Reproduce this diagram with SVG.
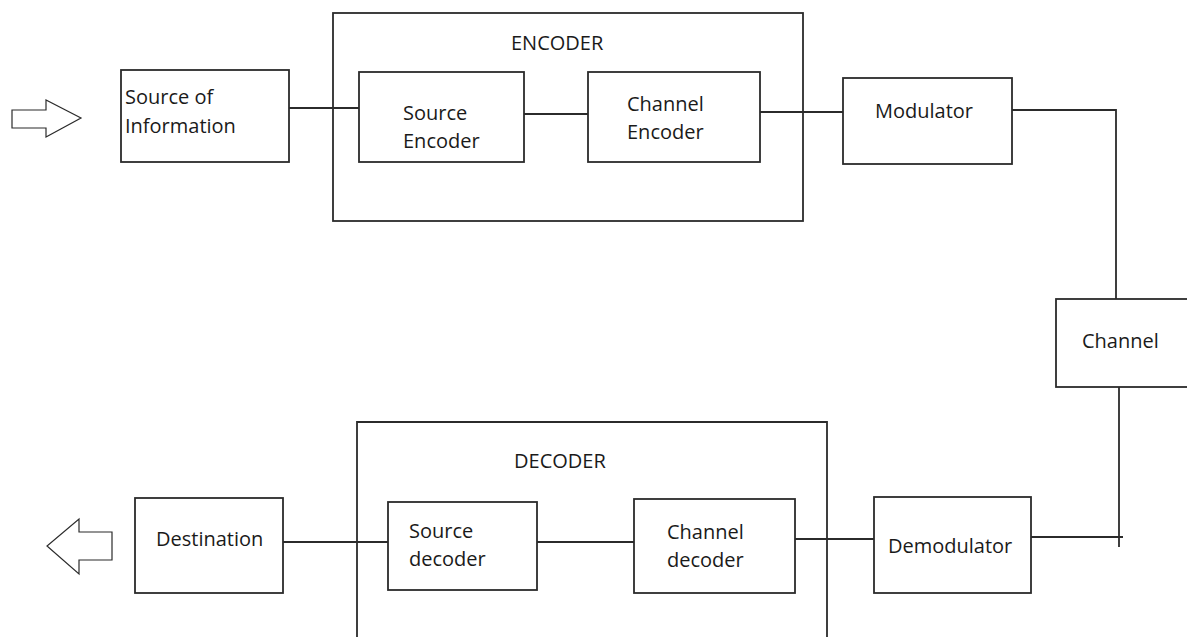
<svg xmlns="http://www.w3.org/2000/svg" width="1187" height="637" viewBox="0 0 1187 637">
  <style>
    .box { fill: #ffffff; stroke: #2b2b2b; stroke-width: 1.8; }
    .wire { fill: none; stroke: #2b2b2b; stroke-width: 1.8; }
    .hollow { fill: #ffffff; stroke: #2b2b2b; stroke-width: 1.2; }
    .label { font-family: "Open Sans", "Noto Sans", "Liberation Sans", sans-serif; font-size: 20px; fill: #1a1a1a; }
  </style>
  <rect width="1187" height="637" fill="#ffffff"/>

  <!-- block outlines for the encoder and decoder groups -->
  <g id="encoder">
    <rect class="box" x="333" y="13" width="470" height="208"/>
    <text class="label" x="511" y="50">ENCODER</text>
  </g>
  <g id="decoder">
    <path class="box" d="M357 640 V422 H827 V640"/>
    <text class="label" x="514" y="468">DECODER</text>
  </g>

  <!-- connectors -->
  <g id="connectors">
    <path class="wire" d="M289 108 H362"/>
    <path class="wire" d="M524 114 H591"/>
    <path class="wire" d="M760 112 H843"/>
    <path class="wire" d="M1012 110 H1116 V299"/>
    <path class="wire" d="M1119 387 V547"/>
    <path class="wire" d="M1030 537 H1123"/>
    <path class="wire" d="M795 539 H877"/>
    <path class="wire" d="M537 542 H637"/>
    <path class="wire" d="M281 542 H390"/>
  </g>

  <!-- input / output arrows -->
  <g id="input-arrow">
    <polygon class="hollow" points="12,110 46,110 46,100 81,118 46,137 46,128 12,128"/>
  </g>
  <g id="output-arrow">
    <polygon class="hollow" points="112,532 79,532 79,519 47,546 79,574 79,560 112,560"/>
  </g>

  <g id="source-of-information">
    <rect class="box" x="121" y="70" width="168" height="92"/>
    <text class="label" x="125" y="104">Source of</text>
    <text class="label" x="125" y="133">Information</text>
  </g>
  <g id="source-encoder">
    <rect class="box" x="359" y="72" width="165" height="90"/>
    <text class="label" x="403" y="120">Source</text>
    <text class="label" x="403" y="148">Encoder</text>
  </g>
  <g id="channel-encoder">
    <rect class="box" x="588" y="72" width="172" height="90"/>
    <text class="label" x="627" y="111">Channel</text>
    <text class="label" x="627" y="139">Encoder</text>
  </g>
  <g id="modulator">
    <rect class="box" x="843" y="78" width="169" height="86"/>
    <text class="label" x="875" y="118">Modulator</text>
  </g>
  <g id="channel">
    <rect class="box" x="1056" y="299" width="132" height="88"/>
    <text class="label" x="1082" y="348">Channel</text>
  </g>
  <g id="demodulator">
    <rect class="box" x="874" y="497" width="157" height="96"/>
    <text class="label" x="888" y="553">Demodulator</text>
  </g>
  <g id="channel-decoder">
    <rect class="box" x="634" y="499" width="161" height="94"/>
    <text class="label" x="667" y="539">Channel</text>
    <text class="label" x="667" y="567">decoder</text>
  </g>
  <g id="source-decoder">
    <rect class="box" x="388" y="502" width="149" height="88"/>
    <text class="label" x="409" y="538">Source</text>
    <text class="label" x="409" y="566">decoder</text>
  </g>
  <g id="destination">
    <rect class="box" x="135" y="498" width="148" height="95"/>
    <text class="label" x="156" y="546">Destination</text>
  </g>
</svg>
